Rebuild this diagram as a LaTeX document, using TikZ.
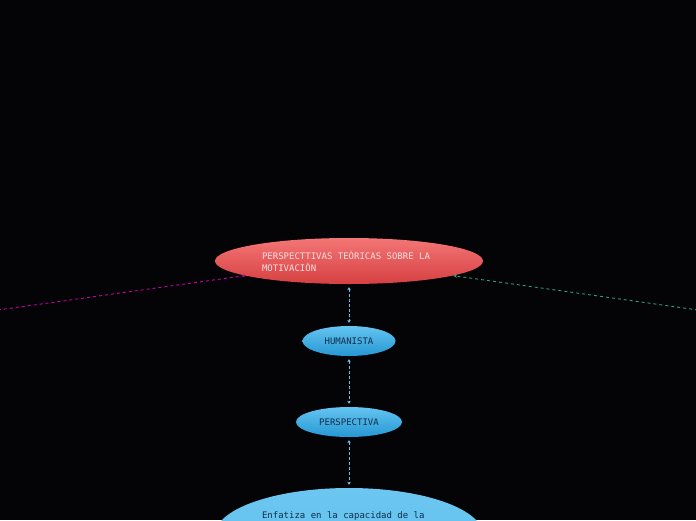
\documentclass[tikz,border=0pt]{standalone}
\usepackage{fontspec}
\setmonofont{DejaVu Sans Mono}
\usetikzlibrary{shapes.geometric, arrows.meta, positioning}
\definecolor{cBack}{RGB}{4,3,6}
\definecolor{cRedTop}{RGB}{244,118,118}
\definecolor{cRedBot}{RGB}{214,64,66}
\definecolor{cRedTxt}{RGB}{250,222,222}
\definecolor{cBlueTop}{RGB}{100,196,240}
\definecolor{cBlueBot}{RGB}{38,152,212}
\definecolor{cBlueTxt}{RGB}{18,44,70}
\definecolor{cMagenta}{RGB}{200,0,170}
\definecolor{cMint}{RGB}{60,200,140}
\tikzset{
	mainidea/.style={ellipse, minimum width=268pt, minimum height=46pt, inner sep=0pt, align=left, text width=174pt, top color=cRedTop, bottom color=cRedBot, text=cRedTxt, font=\ttfamily\fontsize{9}{12}\selectfont, execute at begin node={\spaceskip=0.602em\relax}},
	subtopic/.style={ellipse, minimum height=30pt, inner sep=0pt, align=center, top color=cBlueTop, bottom color=cBlueBot, text=cBlueTxt, font=\ttfamily\fontsize{9}{12}\selectfont, execute at begin node={\spaceskip=0.602em\relax}},
	conn/.style={{Stealth[length=3pt,width=3.5pt]}-{Stealth[length=3pt,width=3.5pt]}, cBlueTop, line width=0.8pt, dash pattern=on 3pt off 2pt, shorten <=3pt, shorten >=3pt},
	sidelink/.style={dash pattern=on 3pt off 3pt, line width=0.9pt},
}
\begin{document}
\begin{tikzpicture}[x=1pt, y=-1pt]
	\fill[cBack] (0,0) rectangle (696,520);
	\useasboundingbox (0,0) rectangle (696,520);
	% central idea
	\node[mainidea] (root) at (349,261) {PERSPECTTIVAS TEÒRICAS SOBRE LA\\MOTIVACIÒN};
	% branch down
	\node[subtopic, minimum width=93pt] (humanista) at (349,341) {HUMANISTA};
	\node[subtopic, minimum width=106pt] (perspectiva) at (349,422) {PERSPECTIVA};
	\node[subtopic, minimum width=268pt, minimum height=94pt, text width=174pt, align=left, top color=cBlueTop!95!white, bottom color=cBlueTop!90!cBlueBot, text height=7pt, text depth=41pt] (enfatiza) at (349,535) {Enfatiza en la capacidad de la};
	\draw[conn] (root) -- (humanista);
	\draw[conn] (humanista) -- (perspectiva);
	\draw[conn] (perspectiva) -- (enfatiza);
	% side branches
	\coordinate (leftend) at (-2,310);
	\coordinate (rightend) at (698,310);
	\draw[sidelink, cMagenta, -{Circle[length=2.5pt]}] (leftend) -- (root.188);
	\draw[sidelink, cMint!80!black, -{Stealth[length=4pt,width=3.5pt]}] (rightend) -- (root.-8);
\end{tikzpicture}
\end{document}
